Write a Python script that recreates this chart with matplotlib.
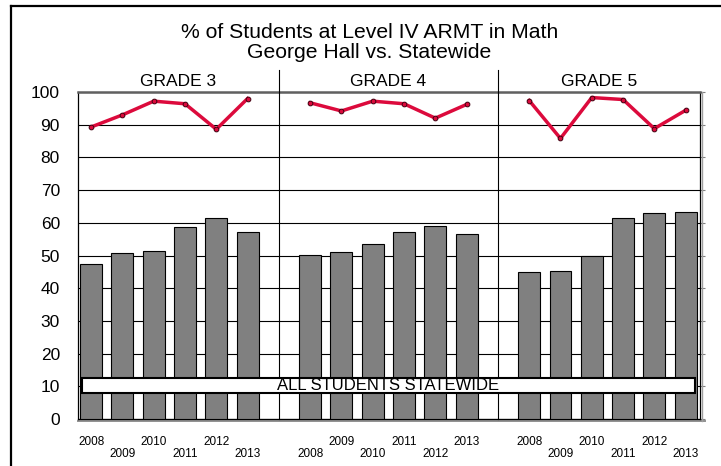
import numpy as np
import matplotlib
matplotlib.use('Agg')
import matplotlib.pyplot as plt
import matplotlib.patches as patches
from matplotlib.lines import Line2D

plt.rcParams['font.family'] = ['Liberation Sans', 'DejaVu Sans']

# data
years = ['2008', '2009', '2010', '2011', '2012', '2013']
grades = ['GRADE 3', 'GRADE 4', 'GRADE 5']
school_pct = [
    [47.4, 50.9, 51.4, 58.7, 61.4, 57.2],   # grade 3, George Hall
    [50.3, 51.1, 53.5, 57.3, 59.0, 56.7],   # grade 4
    [44.9, 45.4, 49.8, 61.5, 63.0, 63.2],   # grade 5
]
state_pct = [
    [89.3, 93.0, 97.2, 96.4, 88.6, 98.0],   # grade 3, statewide
    [96.7, 94.2, 97.2, 96.4, 92.0, 96.2],   # grade 4
    [97.4, 85.8, 98.3, 97.7, 88.8, 94.4],   # grade 5
]
box_label = 'ALL STUDENTS STATEWIDE'
title_lines = ['% of Students at Level IV ARMT in Math', 'George Hall vs. Statewide']

W, H = 721, 466
fig = plt.figure(figsize=(W / 100, H / 100), dpi=100)
ax = fig.add_axes([78 / W, (H - 419) / H, 622 / W, 327 / H])

n_years = len(years)
red = '#dc0a3c'
slot = 0
for g in range(len(grades)):
    xs = np.arange(n_years) + slot
    ax.bar(xs, school_pct[g], width=0.7, color='#808080', edgecolor='black',
           linewidth=0.8, zorder=3)
    ax.plot(xs, state_pct[g], color=red, lw=2.5, marker='o', markersize=3.4,
            markerfacecolor=red, markeredgecolor='#400010', markeredgewidth=0.7,
            zorder=5)
    # staggered category labels, as the spreadsheet drew them
    for i, x in enumerate(xs):
        ax.text(x, -0.0795 if x % 2 == 0 else -0.116, years[i], fontsize=8.5,
                ha='center', va='baseline',
                transform=ax.get_xaxis_transform())
    slot += n_years + 1

xlim = (-0.42, 19.46)
ax.set_xlim(*xlim)
ax.set_ylim(0, 100)

# grade dividers and labels
trans = ax.get_xaxis_transform()
edges = [xlim[0], 6, 13, xlim[1]]
for d in [6, 13]:
    ax.plot([d, d], [0, 1.067], color='black', lw=0.8, transform=trans,
            clip_on=False, zorder=4)
for g, name in enumerate(grades):
    ax.text((edges[g] + edges[g + 1]) / 2, 1.018, name, fontsize=12.5,
            ha='center', va='baseline', transform=trans)

# statewide box
box = patches.Rectangle((-0.29, 8.0), 19.59, 4.5, facecolor='white',
                        edgecolor='black', linewidth=1.5, zorder=6)
ax.add_patch(box)
ax.text(9.5, 8.75, box_label, fontsize=12, ha='center', va='baseline', zorder=7)

ax.set_yticks(np.arange(0, 101, 10))
ax.set_xticks([])
ax.yaxis.grid(True, color='black', lw=0.8)
ax.set_axisbelow(True)
ax.tick_params(axis='y', left=False, right=True, labelleft=True, direction='out',
               length=3.6, pad=9.4, color='#808080', labelsize=12.5)
for s in ['left', 'right', 'bottom']:
    ax.spines[s].set_color('black')
    ax.spines[s].set_linewidth(0.9)
ax.spines['top'].set_color('#606060')
ax.spines['top'].set_linewidth(1.8)

# shadow lines along the bottom and right side
ax.plot([xlim[0], xlim[1] + 0.15], [-0.6, -0.6], color='#909090', lw=1.4,
        clip_on=False, zorder=2)
ax.plot([xlim[1] + 0.06, xlim[1] + 0.06], [-0.6, 100], color='#a0a0a0', lw=1.0,
        clip_on=False, zorder=2)

fig.text(370 / W, 1 - 37.5 / H, title_lines[0], fontsize=15.2, ha='center',
         va='baseline')
fig.text(369 / W, 1 - 58 / H, title_lines[1], fontsize=15.2, ha='center',
         va='baseline')

# outer frame (left and top edges visible)
fig.add_artist(Line2D([11 / W, 11 / W], [0, 1 - 6 / H], color='black', lw=1.6))
fig.add_artist(Line2D([11 / W, 1], [1 - 6 / H, 1 - 6 / H], color='black', lw=1.6))

fig.savefig('out.png', dpi=100)
